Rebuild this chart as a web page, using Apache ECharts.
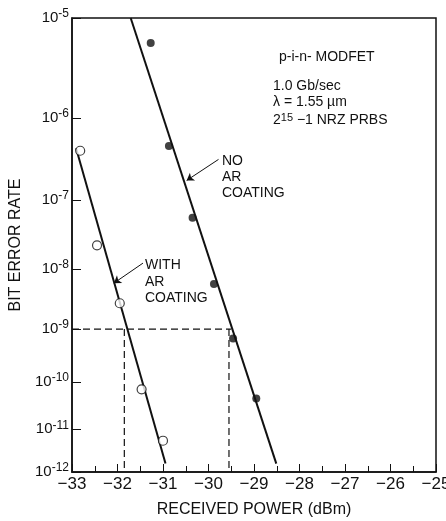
<!DOCTYPE html>
<html>
<head>
<meta charset="utf-8">
<script src="https://cdn.jsdelivr.net/npm/echarts@6/dist/echarts.min.js"></script>
<style>
  html, body { margin: 0; padding: 0; background: #fff; }
  #main { width: 446px; height: 521px; }
</style>
</head>
<body>
<div id="main"></div>
<script>
// measured points
var noArPower = [-31.27, -30.87, -30.35, -29.88, -29.46, -28.95];
var noArBer = [5.9e-6, 4.8e-7, 5.7e-8, 5.8e-9, 6.8e-10, 4.6e-11];
var withArPower = [-32.82, -32.45, -31.95, -31.47, -31.00];
var withArBer = [4.2e-7, 2.3e-8, 2.8e-9, 7.1e-11, 5.5e-12];

// fitted lines (end points)
var noArFitPower = [-31.71, -28.51];
var noArFitBer = [1e-5, 1.6e-12];
var withArFitPower = [-32.91, -30.945];
var withArFitBer = [4.5e-7, 1.6e-12];

// 1e-9 reference and the two crossings
var refBer = 1e-9;
var refPowerEnd = -29.5;
var crossPower = [-31.85, -29.55];

var berTicks = [1e-5, 1e-6, 1e-7, 1e-8, 1e-9, 1e-10, 1e-11, 1e-12];

// y scale of the plot: ln(-log10(BER) - 1)
function tf(b) { return Math.log(-Math.log10(b) - 1); }
function pts(xs, ys) { return xs.map(function (x, i) { return [x, tf(ys[i])]; }); }

var tickVals = berTicks.map(tf);
var txt = '#111';
var font = '"Liberation Sans", Arial, sans-serif';

var myChart = echarts.init(document.getElementById('main'));
var option = {
  backgroundColor: '#fff',
  animation: false,
  textStyle: { fontFamily: font, color: txt },
  grid: {
    left: 72, right: 10, top: 18, bottom: 49,
    show: true, borderColor: txt, borderWidth: 1.5,
    containLabel: false, outerBoundsMode: 'none'
  },
  xAxis: {
    type: 'value', min: -33, max: -25, interval: 1,
    name: 'RECEIVED POWER (dBm)', nameLocation: 'middle', nameGap: 30,
    nameTextStyle: { fontSize: 16, color: txt, fontFamily: font },
    axisLine: { lineStyle: { color: txt, width: 1.5 } },
    axisTick: { inside: true, length: 8, lineStyle: { color: txt } },
    minorTick: { show: true, splitNumber: 2, length: 6, lineStyle: { color: txt } },
    splitLine: { show: false },
    axisLabel: {
      fontSize: 17, color: txt, margin: 4, fontFamily: font,
      formatter: function (v) { return v < 0 ? '\u2212' + Math.abs(v) : String(v); }
    }
  },
  yAxis: {
    type: 'value', inverse: true, min: tf(1e-5), max: tf(1e-12),
    name: 'BIT ERROR RATE', nameLocation: 'middle', nameGap: 40,
    nameTextStyle: { fontSize: 16, color: txt, fontFamily: font },
    axisLine: { lineStyle: { color: txt, width: 1.5 } },
    axisTick: { inside: true, length: 9, customValues: tickVals, lineStyle: { color: txt } },
    splitLine: { show: false },
    axisLabel: {
      customValues: tickVals, margin: 3, color: txt,
      formatter: function (v) {
        return '{b|10}{s|' + (-Math.round(Math.exp(v) + 1)) + '}';
      },
      rich: {
        b: { fontSize: 15, lineHeight: 20, color: txt, fontFamily: font },
        s: { fontSize: 12, verticalAlign: 'top', color: txt, fontFamily: font }
      }
    }
  },
  graphic: [
    { type: 'text', left: 279, top: 50, style: { text: 'p-i-n- MODFET', font: '14px ' + font, fill: txt } },
    { type: 'text', left: 273, top: 79, style: { text: '1.0 Gb/sec', font: '14px ' + font, fill: txt } },
    { type: 'text', left: 273, top: 95, style: { text: '\u03bb = 1.55 \u00b5m', font: '14px ' + font, fill: txt } },
    { type: 'text', left: 273, top: 112, style: {
        text: '{n|2}{s|15}{n| \u22121 NRZ PRBS}',
        rich: {
          n: { fontSize: 14, lineHeight: 17, fill: txt, fontFamily: font },
          s: { fontSize: 11, verticalAlign: 'top', fill: txt, fontFamily: font }
        }
      } },
    { type: 'text', left: 222, top: 153, style: { text: 'NO\nAR\nCOATING', font: '14px ' + font, lineHeight: 16, fill: txt } },
    { type: 'text', left: 145, top: 257, style: { text: 'WITH\nAR\nCOATING', font: '14px ' + font, lineHeight: 16.5, fill: txt } }
  ],
  series: [
    {
      name: 'NO AR fit', type: 'line', data: pts(noArFitPower, noArFitBer),
      symbol: 'none', lineStyle: { color: txt, width: 2 }, silent: true, z: 2,
      markLine: {
        silent: true, animation: false, label: { show: false },
        lineStyle: { color: txt, width: 1, type: 'solid' },
        data: [[
          { coord: [-29.78, tf(3.3e-7)], symbol: 'none' },
          { coord: [-30.48, tf(1.8e-7)], symbol: 'arrow', symbolSize: 7 }
        ]]
      }
    },
    {
      name: 'WITH AR fit', type: 'line', data: pts(withArFitPower, withArFitBer),
      symbol: 'none', lineStyle: { color: txt, width: 2 }, silent: true, z: 2,
      markLine: {
        silent: true, animation: false, label: { show: false },
        lineStyle: { color: txt, width: 1, type: 'solid' },
        data: [[
          { coord: [-31.44, tf(1.24e-8)], symbol: 'none' },
          { coord: [-32.08, tf(6.0e-9)], symbol: 'arrow', symbolSize: 7 }
        ]]
      }
    },
    {
      name: 'ref', type: 'line', symbol: 'none', silent: true,
      data: [[-33, tf(refBer)], [refPowerEnd, tf(refBer)]],
      lineStyle: { color: txt, width: 1.2, type: [7, 4] }
    },
    {
      name: 'cross1', type: 'line', symbol: 'none', silent: true,
      data: [[crossPower[0], tf(refBer)], [crossPower[0], tf(1e-12)]],
      lineStyle: { color: txt, width: 1.2, type: [7, 4] }
    },
    {
      name: 'cross2', type: 'line', symbol: 'none', silent: true,
      data: [[crossPower[1], tf(refBer)], [crossPower[1], tf(1e-12)]],
      lineStyle: { color: txt, width: 1.2, type: [7, 4] }
    },
    {
      name: 'NO AR COATING', type: 'scatter', data: pts(noArPower, noArBer),
      symbol: 'circle', symbolSize: 8, itemStyle: { color: txt }, z: 3
    },
    {
      name: 'WITH AR COATING', type: 'scatter', data: pts(withArPower, withArBer),
      symbol: 'circle', symbolSize: 9,
      itemStyle: { color: '#fff', borderColor: txt, borderWidth: 1.2 }, z: 3
    }
  ]
};
myChart.setOption(option);
</script>
</body>
</html>
